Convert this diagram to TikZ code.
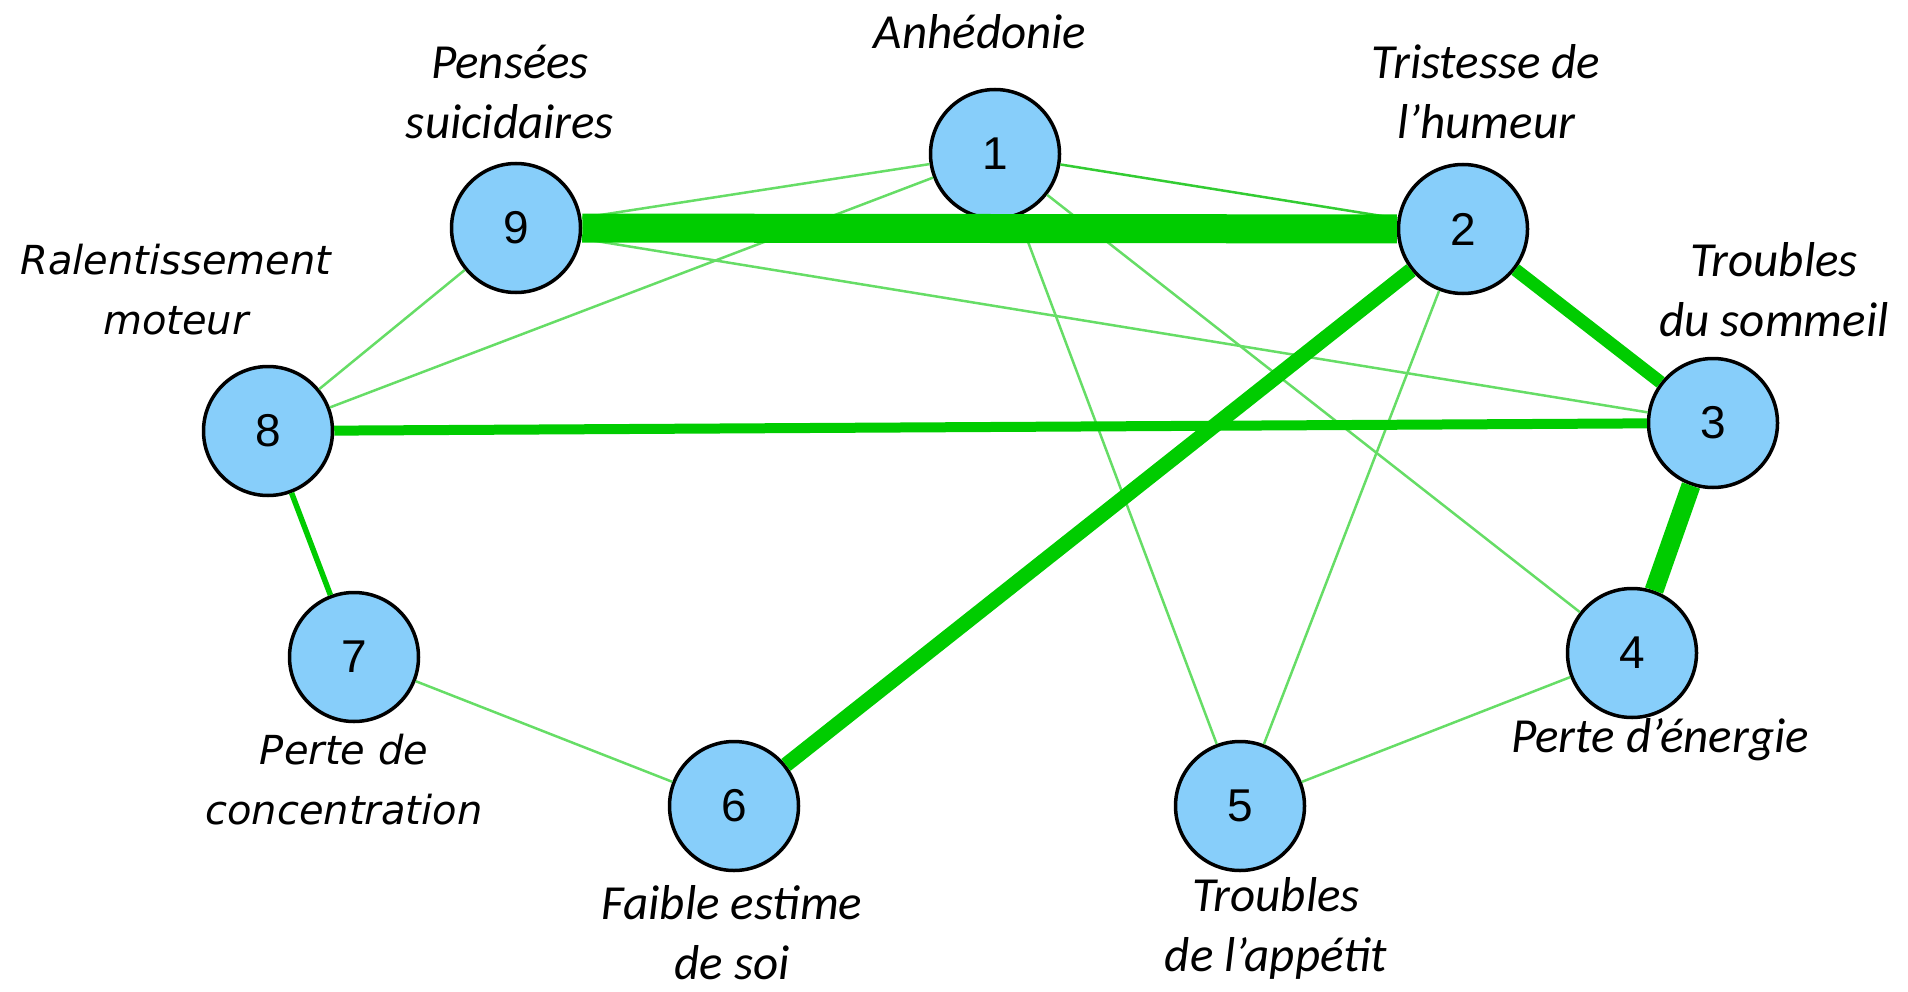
\documentclass[tikz,border=0pt]{standalone}
\usepackage{fontspec}
\setmainfont{Carlito}
\newfontfamily\numfont{Liberation Sans}
\newfontfamily\widefont{DejaVu Sans}
\definecolor{nodeblue}{HTML}{87CEFA}
\definecolor{edgedark}{HTML}{00CC00}
\definecolor{edgemid}{HTML}{33CC33}
\definecolor{edgelight}{HTML}{66DD66}
\begin{document}
\begin{tikzpicture}[x=1pt, y=-1pt,
    symptom/.style={circle, draw=black, line width=3.5pt, fill=nodeblue,
        minimum size=129pt, inner sep=0pt, font=\numfont\fontsize{46}{46}\selectfont},
    lbl/.style={align=center, inner sep=0pt, font=\itshape\fontsize{49}{60}\selectfont},
    widelbl/.style={align=center, inner sep=0pt, font=\widefont\itshape\fontsize{40}{60}\selectfont},
    weak/.style={edgelight, line width=2.5pt},
    link/.style={edgedark, line width=#1}]
    \useasboundingbox (0,0) rectangle (1908,992);
    % symptoms
    \node[symptom] (n1) at (995,154) {1};
    \node[symptom] (n2) at (1463,229) {2};
    \node[symptom] (n3) at (1713,423) {3};
    \node[symptom] (n4) at (1632,653) {4};
    \node[symptom] (n5) at (1240,806) {5};
    \node[symptom] (n6) at (734,806) {6};
    \node[symptom] (n7) at (354,657) {7};
    \node[symptom] (n8) at (268,431) {8};
    \node[symptom] (n9) at (516,228) {9};
    % weak links
    \draw[weak] (n1) -- (n9);
    \draw[weak] (n1) -- (n8);
    \draw[weak] (n1) -- (n5);
    \draw[weak] (n1) -- (n4);
    \draw[weak] (n9) -- (n8);
    \draw[weak] (n9) -- (n3);
    \draw[weak] (n2) -- (n5);
    \draw[weak] (n7) -- (n6);
    \draw[weak] (n5) -- (n4);
    % strong links
    \draw[edgemid, line width=2.5pt] (n1) -- (n2);
    \draw[link=5.5pt] (n8) -- (n7);
    \draw[link=10pt] (n8) -- (n3);
    \draw[link=13pt] (n2) -- (n3);
    \draw[link=15pt] (n2) -- (n6);
    \draw[link=19pt] (n3) -- (n4);
    \draw[link=29pt] (n9) -- (n2);
    % labels
    \node[lbl] (lab1) at (980,32) {Anhédonie};
    \node[lbl] (lab2) at (1486,92) {Tristesse de\\l’humeur};
    \node[lbl] (lab3) at (1774,290) {Troubles\\du sommeil};
    \node[lbl] (lab4) at (1660,740) {Perte d’énergie};
    \node[lbl] (lab5) at (1276,928) {Troubles\\de l’appétit};
    \node[lbl] (lab6) at (732,933) {Faible estime\\de soi};
    \node[widelbl] (lab7) at (344,780) {Perte de\\concentration};
    \node[widelbl] (lab8) at (176,290) {Ralentissement\\moteur};
    \node[lbl] (lab9) at (510,92) {Pensées\\suicidaires};
\end{tikzpicture}
\end{document}
